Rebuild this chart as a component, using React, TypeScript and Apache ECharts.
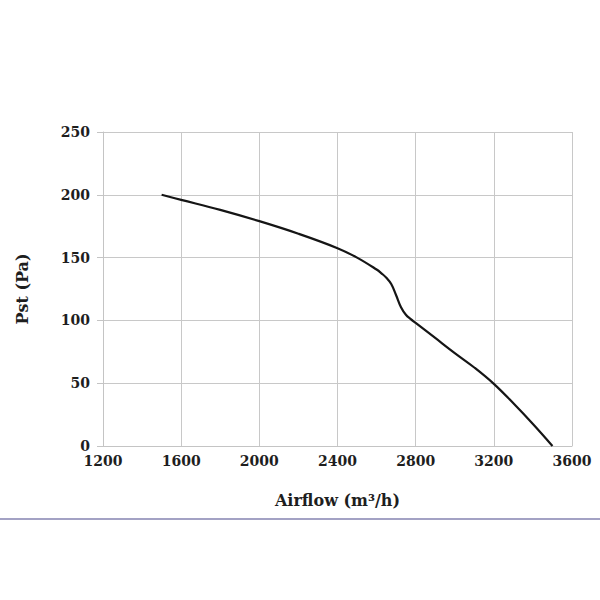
import React, { useEffect, useRef } from "react";
import * as echarts from "echarts";

const airflow = [1500, 1600, 1800, 2000, 2200, 2400, 2500, 2600, 2625, 2650, 2675, 2700, 2725, 2750, 2775, 2800, 2900, 3000, 3100, 3200, 3300, 3400, 3500];
const pressure = [200, 196, 188, 179, 169, 157.5, 150, 140.5, 137.5, 134, 129, 120, 110.5, 104.5, 101, 98, 86, 74, 62.5, 49.5, 34, 17.5, 0];
const xTicks = [1200, 1600, 2000, 2400, 2800, 3200, 3600];
const yTicks = [0, 50, 100, 150, 200, 250];

export default function App() {
  const ref = useRef<HTMLDivElement>(null);
  useEffect(() => {
    if (!ref.current) return;
    const chart = echarts.init(ref.current, null, { renderer: "svg" });
    const labelFont = {
      fontFamily: "DejaVu Serif",
      fontWeight: "bold" as const,
      fontSize: 14,
      color: "#1e1e1e",
    };
    const nameFont = {
      fontFamily: "DejaVu Serif",
      fontWeight: "bold" as const,
      fontSize: 16,
      color: "#1e1e1e",
    };
    chart.setOption({
      animation: false,
      backgroundColor: "#ffffff",
      grid: { left: 103, top: 132, right: 28, bottom: 154 },
      xAxis: {
        type: "value",
        min: xTicks[0],
        max: xTicks[xTicks.length - 1],
        interval: 400,
        name: "Airflow (m³/h)",
        nameLocation: "middle",
        nameGap: 46,
        nameTextStyle: nameFont,
        axisLine: { show: true, lineStyle: { color: "#c4c4c4", width: 1 } },
        axisTick: { show: false },
        axisLabel: { ...labelFont, margin: 8, formatter: (v: number) => String(v) },
        splitLine: { show: true, lineStyle: { color: "#c8c8c8", width: 1 } },
      },
      yAxis: {
        type: "value",
        min: yTicks[0],
        max: yTicks[yTicks.length - 1],
        interval: 50,
        name: "Pst (Pa)",
        nameLocation: "middle",
        nameGap: 73,
        nameRotate: 90,
        nameTextStyle: nameFont,
        axisLine: { show: true, lineStyle: { color: "#c4c4c4", width: 1 } },
        axisTick: { show: true, length: 6, lineStyle: { color: "#c4c4c4" } },
        axisLabel: { ...labelFont, margin: 13, formatter: (v: number) => String(v) },
        splitLine: { show: true, lineStyle: { color: "#c8c8c8", width: 1 } },
      },
      graphic: [
        {
          type: "rect",
          left: 0,
          top: 518,
          shape: { width: 600, height: 2 },
          style: { fill: "#a3a2c4" },
        },
      ],
      series: [
        {
          type: "line",
          data: airflow.map((x, i) => [x, pressure[i]]),
          smooth: 0.4,
          showSymbol: false,
          lineStyle: { color: "#151515", width: 2.2 },
        },
      ],
    });
    return () => chart.dispose();
  }, []);
  return (
    <div
      ref={ref}
      style={{ position: "fixed", left: 0, top: 0, width: 600, height: 600, background: "#fff" }}
    />
  );
}
